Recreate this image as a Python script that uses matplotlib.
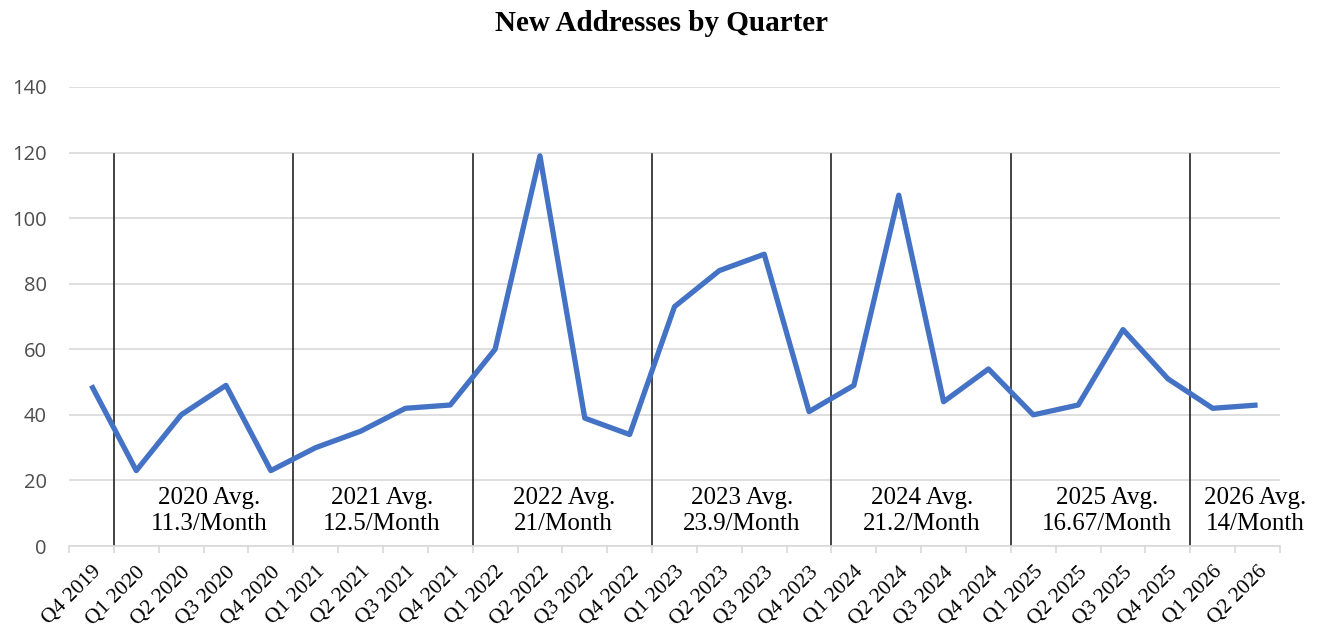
import matplotlib.pyplot as plt

quarters = ['Q4 2019', 'Q1 2020', 'Q2 2020', 'Q3 2020', 'Q4 2020',
            'Q1 2021', 'Q2 2021', 'Q3 2021', 'Q4 2021',
            'Q1 2022', 'Q2 2022', 'Q3 2022', 'Q4 2022',
            'Q1 2023', 'Q2 2023', 'Q3 2023', 'Q4 2023',
            'Q1 2024', 'Q2 2024', 'Q3 2024', 'Q4 2024',
            'Q1 2025', 'Q2 2025', 'Q3 2025', 'Q4 2025',
            'Q1 2026', 'Q2 2026']
new_addresses = [49, 23, 40, 49, 23,
                 30, 35, 42, 43,
                 60, 119, 39, 34,
                 73, 84, 89, 41,
                 49, 107, 44, 54,
                 40, 43, 66, 51,
                 42, 43]
year_labels = ['2020 Avg.\n11.3/Month', '2021 Avg.\n12.5/Month', '2022 Avg.\n21/Month',
               '2023 Avg.\n23.9/Month', '2024 Avg.\n21.2/Month', '2025 Avg.\n16.67/Month',
               '2026 Avg.\n14/Month']
year_starts = ['Q1 2020', 'Q1 2021', 'Q1 2022', 'Q1 2023', 'Q1 2024', 'Q1 2025', 'Q1 2026']

# where the text boxes sit (in category units), hand-placed like the original
label_x = [2.62, 6.48, 10.53, 14.5, 18.51, 22.64, 25.94]

serif = ['Liberation Serif', 'DejaVu Serif']
fig = plt.figure(figsize=(13.23, 6.34), dpi=100)
ax = fig.add_axes([69 / 1323, 88 / 634, 1211 / 1323, 459 / 634])

x = list(range(len(quarters)))
ax.plot(x, new_addresses, color='#4472C4', lw=3.8, solid_joinstyle='round',
        solid_capstyle='butt', zorder=3)

for q in year_starts:
    xi = quarters.index(q) - 0.5
    ax.plot([xi, xi], [0, 119.5], color='#111111', lw=1.1, zorder=2)

for lab, lx in zip(year_labels, label_x):
    ax.text(lx, 10.6, lab, ha='center', va='center', fontsize=18, family=serif,
            linespacing=1.25, zorder=4)

ax.set_xlim(-0.5, len(quarters) - 0.5)
ax.set_ylim(0, 140)
ax.set_yticks(range(0, 141, 20))
ax.yaxis.grid(True, color='#D9D9D9', lw=1.2)
ax.set_axisbelow(True)
for s in ['top', 'right', 'left']:
    ax.spines[s].set_visible(False)
ax.spines['bottom'].set_color('#D9D9D9')
ax.spines['bottom'].set_linewidth(1.2)

ax.set_xticks([i - 0.5 for i in range(len(quarters) + 1)], minor=False)
ax.set_xticklabels([])
ax.set_xticks(x, minor=True)
ax.set_xticklabels(quarters, minor=True, rotation=45, ha='right',
                   rotation_mode='anchor', fontsize=15.5, family=serif)
ax.tick_params(axis='x', which='major', length=5, color='#D9D9D9', width=1.2)
ax.tick_params(axis='x', which='minor', length=0, pad=12)
ax.tick_params(axis='y', length=0, labelsize=14.5, labelcolor='#4D4D4D', pad=16)
for t in ax.get_yticklabels():
    t.set_family(['Open Sans', 'DejaVu Sans'])

fig.suptitle('New Addresses by Quarter', y=0.985, fontsize=21, fontweight='bold',
             family=serif)
fig.savefig('out.png')
